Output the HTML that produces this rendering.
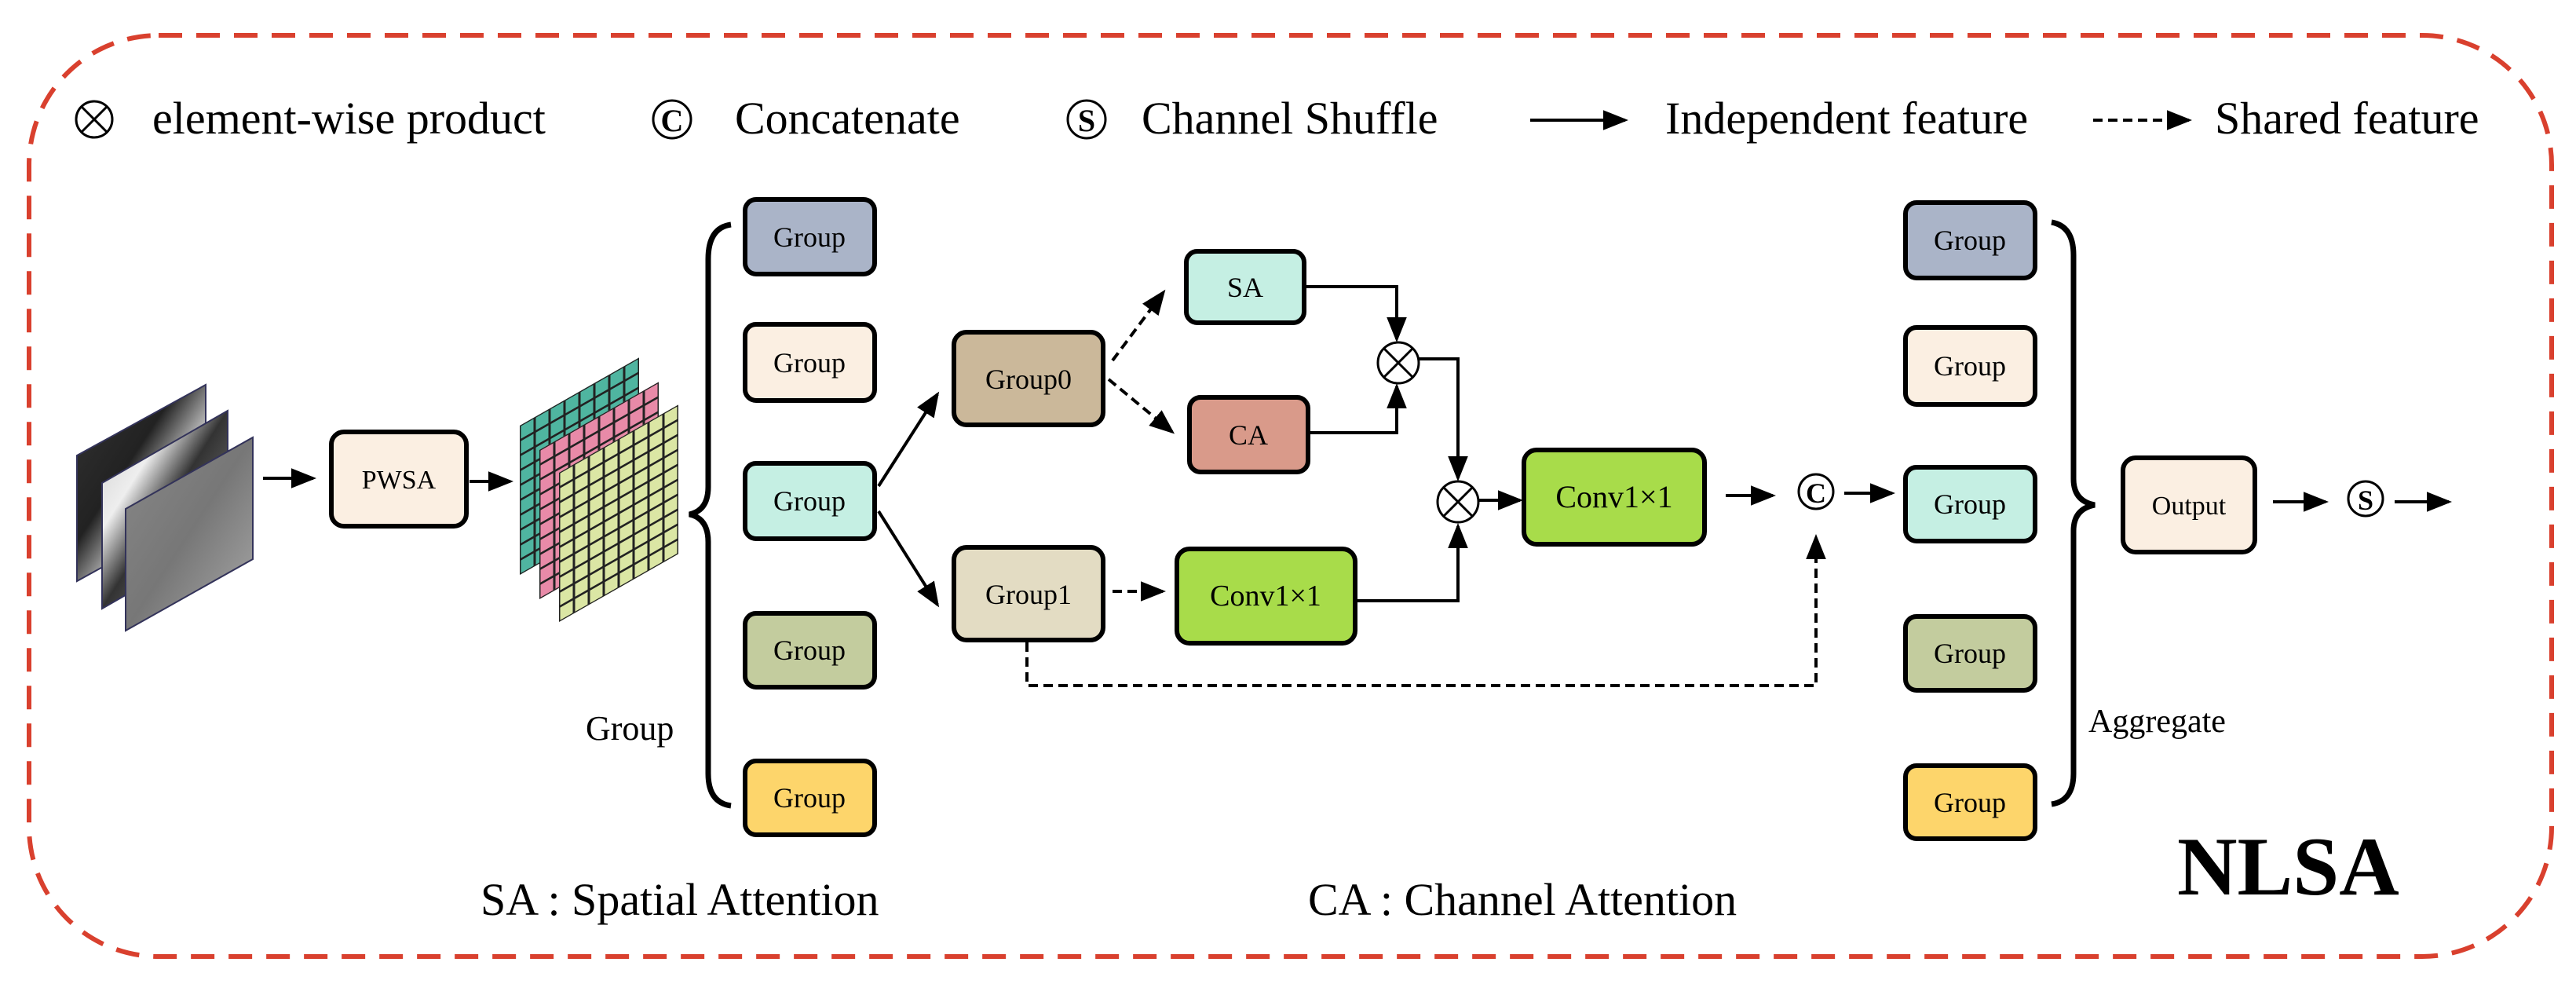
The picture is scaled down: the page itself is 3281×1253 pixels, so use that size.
<!DOCTYPE html>
<html><head><meta charset="utf-8"><style>
html,body{margin:0;padding:0;background:#fff}
svg{display:block}
text{font-family:"Liberation Serif","Times New Roman",serif;fill:#000}
</style></head><body>
<svg width="3281" height="1253" viewBox="0 0 3281 1253" xmlns="http://www.w3.org/2000/svg" font-family="'Liberation Serif', 'Times New Roman', serif">
<defs>
<marker id="ah" markerWidth="8" markerHeight="8" refX="7" refY="4" orient="auto" markerUnits="strokeWidth"><path d="M0,0.8 L8,4 L0,7.2 Z" fill="#000"/></marker>
<pattern id="gridp" width="19" height="19" patternUnits="userSpaceOnUse"><rect width="19" height="19" fill="none" stroke="#222" stroke-width="3"/></pattern>
<linearGradient id="g1" x1="0" y1="0" x2="1" y2="1"><stop offset="0" stop-color="#333"/><stop offset="0.4" stop-color="#222"/><stop offset="0.6" stop-color="#bbb"/><stop offset="1" stop-color="#555"/></linearGradient>
<linearGradient id="g2" x1="0" y1="0" x2="1" y2="1"><stop offset="0" stop-color="#ccc"/><stop offset="0.3" stop-color="#eee"/><stop offset="0.5" stop-color="#333"/><stop offset="1" stop-color="#999"/></linearGradient>
<linearGradient id="g3" x1="0" y1="0" x2="1" y2="1"><stop offset="0" stop-color="#888"/><stop offset="0.5" stop-color="#777"/><stop offset="1" stop-color="#aaa"/></linearGradient>
</defs>

<rect x="37" y="45" width="3213" height="1173" rx="165" ry="165" fill="none" stroke="#d9402e" stroke-width="6" stroke-dasharray="30,18"/>

<g stroke="#000" stroke-width="3" fill="none">
<circle cx="120" cy="152" r="23"/><line x1="104" y1="136" x2="136" y2="168"/><line x1="136" y1="136" x2="104" y2="168"/>
<circle cx="856" cy="152" r="24"/>
<circle cx="1384" cy="152" r="24"/>
</g>
<text x="194" y="170" font-size="58">element-wise product</text>
<text x="856" y="167" font-size="40" font-weight="bold" text-anchor="middle" font-family="Liberation Sans">C</text>
<text x="936" y="170" font-size="58">Concatenate</text>
<text x="1384" y="167" font-size="40" font-weight="bold" text-anchor="middle" font-family="Liberation Sans">S</text>
<text x="1454" y="170" font-size="58">Channel Shuffle</text>
<line x1="1949" y1="153" x2="2070" y2="153" stroke="#000" stroke-width="4" marker-end="url(#ah)"/>
<text x="2121" y="170" font-size="58">Independent feature</text>
<line x1="2666" y1="153" x2="2788" y2="153" stroke="#000" stroke-width="4" stroke-dasharray="12,7" marker-end="url(#ah)"/>
<text x="2821" y="170" font-size="58">Shared feature</text>

<g stroke="#33335a" stroke-width="2">
<polygon points="98,580 262,490 262,650 98,740" fill="url(#g1)"/>
<polygon points="130,615 290,523 290,683 130,775" fill="url(#g2)"/>
<polygon points="160,648 322,557 322,712 160,803" fill="url(#g3)"/>
</g>
<line x1="335" y1="609" x2="399" y2="609" stroke="#000" stroke-width="4" marker-end="url(#ah)"/>

<rect x="422" y="550" width="172" height="120" rx="16" fill="#fbefe2" stroke="#000" stroke-width="6"/>
<text x="508" y="622" font-size="34" text-anchor="middle">PWSA</text>
<line x1="598" y1="613" x2="650" y2="613" stroke="#000" stroke-width="4" marker-end="url(#ah)"/>

<g transform="matrix(1,-0.57,0,1,662,542)"><rect width="152" height="190" fill="#4fb5a0"/><rect width="152" height="190" fill="url(#gridp)"/></g>
<g transform="matrix(1,-0.57,0,1,687,573)"><rect width="152" height="190" fill="#e88aa8"/><rect width="152" height="190" fill="url(#gridp)"/></g>
<g transform="matrix(1,-0.57,0,1,712,602)"><rect width="152" height="190" fill="#dbe6a4"/><rect width="152" height="190" fill="url(#gridp)"/></g>

<path d="M931,286 Q902,290 902,330 L902,620 Q902,650 878,655 Q902,660 902,690 L902,985 Q902,1022 931,1026" fill="none" stroke="#000" stroke-width="7"/>
<text x="746" y="942" font-size="44">Group</text>

<g stroke="#000" stroke-width="6">
<rect x="949" y="254" width="165" height="95" rx="14" fill="#aab4c8"/>
<rect x="949" y="413" width="165" height="97" rx="14" fill="#fbefe2"/>
<rect x="949" y="590" width="165" height="96" rx="14" fill="#c5efe3"/>
<rect x="949" y="781" width="165" height="94" rx="14" fill="#c3cc9e"/>
<rect x="949" y="969" width="165" height="94" rx="14" fill="#fdd56b"/>
</g>
<g font-size="36" text-anchor="middle">
<text x="1031" y="314">Group</text><text x="1031" y="474">Group</text><text x="1031" y="650">Group</text><text x="1031" y="840">Group</text><text x="1031" y="1028">Group</text>
</g>

<line x1="1119" y1="619" x2="1194" y2="502" stroke="#000" stroke-width="4" marker-end="url(#ah)"/>
<line x1="1119" y1="651" x2="1194" y2="770" stroke="#000" stroke-width="4" marker-end="url(#ah)"/>
<rect x="1215" y="423" width="190" height="118" rx="16" fill="#cbb89a" stroke="#000" stroke-width="6"/>
<text x="1310" y="495" font-size="36" text-anchor="middle">Group0</text>
<rect x="1215" y="697" width="190" height="118" rx="16" fill="#e3dcc3" stroke="#000" stroke-width="6"/>
<text x="1310" y="769" font-size="36" text-anchor="middle">Group1</text>

<g stroke="#000" stroke-width="4" stroke-dasharray="12,7" fill="none">
<line x1="1417" y1="459" x2="1482" y2="372" marker-end="url(#ah)"/>
<line x1="1412" y1="483" x2="1493" y2="550" marker-end="url(#ah)"/>
<line x1="1417" y1="753" x2="1481" y2="753" marker-end="url(#ah)"/>
<polyline points="1308,818 1308,873 2313,873 2313,684" marker-end="url(#ah)"/>
</g>

<rect x="1511" y="320" width="150" height="91" rx="14" fill="#c5efe3" stroke="#000" stroke-width="6"/>
<text x="1586" y="378" font-size="36" text-anchor="middle">SA</text>
<rect x="1515" y="506" width="151" height="95" rx="14" fill="#d99a8a" stroke="#000" stroke-width="6"/>
<text x="1590" y="566" font-size="36" text-anchor="middle">CA</text>
<rect x="1499" y="699" width="227" height="120" rx="16" fill="#a8dc4a" stroke="#000" stroke-width="6"/>
<text x="1612" y="771" font-size="38" text-anchor="middle">Conv1×1</text>

<g stroke="#000" stroke-width="4" fill="none">
<polyline points="1661,365 1779,365 1779,432" marker-end="url(#ah)"/>
<polyline points="1666,551 1779,551 1779,492" marker-end="url(#ah)"/>
<polyline points="1807,457 1857,457 1857,609" marker-end="url(#ah)"/>
<polyline points="1726,765 1857,765 1857,670" marker-end="url(#ah)"/>
<line x1="1884" y1="637" x2="1936" y2="637" marker-end="url(#ah)"/>
<circle cx="1781" cy="462" r="26" stroke-width="3"/>
<line x1="1763" y1="444" x2="1799" y2="480" stroke-width="3"/><line x1="1799" y1="444" x2="1763" y2="480" stroke-width="3"/>
<circle cx="1857" cy="639" r="26" stroke-width="3"/>
<line x1="1839" y1="621" x2="1875" y2="657" stroke-width="3"/><line x1="1875" y1="621" x2="1839" y2="657" stroke-width="3"/>
</g>

<rect x="1941" y="573" width="230" height="120" rx="16" fill="#a8dc4a" stroke="#000" stroke-width="6"/>
<text x="2056" y="646" font-size="40" text-anchor="middle">Conv1×1</text>
<line x1="2198" y1="631" x2="2258" y2="631" stroke="#000" stroke-width="4" marker-end="url(#ah)"/>
<circle cx="2313" cy="626" r="22" fill="none" stroke="#000" stroke-width="3"/>
<text x="2313" y="640" font-size="36" font-weight="bold" text-anchor="middle" font-family="Liberation Sans">C</text>
<line x1="2349" y1="628" x2="2410" y2="628" stroke="#000" stroke-width="4" marker-end="url(#ah)"/>

<g stroke="#000" stroke-width="6">
<rect x="2427" y="258" width="165" height="96" rx="14" fill="#aab4c8"/>
<rect x="2427" y="417" width="165" height="98" rx="14" fill="#fbefe2"/>
<rect x="2427" y="595" width="165" height="94" rx="14" fill="#c5efe3"/>
<rect x="2427" y="785" width="165" height="94" rx="14" fill="#c3cc9e"/>
<rect x="2427" y="975" width="165" height="93" rx="14" fill="#fdd56b"/>
</g>
<g font-size="36" text-anchor="middle">
<text x="2509" y="318">Group</text><text x="2509" y="478">Group</text><text x="2509" y="654">Group</text><text x="2509" y="844">Group</text><text x="2509" y="1034">Group</text>
</g>
<path d="M2613,283 Q2641,288 2641,325 L2641,610 Q2641,638 2668,643 Q2641,648 2641,676 L2641,985 Q2641,1020 2613,1024" fill="none" stroke="#000" stroke-width="7"/>
<text x="2660" y="932" font-size="42">Aggregate</text>

<rect x="2704" y="583" width="168" height="120" rx="16" fill="#fbefe2" stroke="#000" stroke-width="6"/>
<text x="2788" y="655" font-size="34" text-anchor="middle">Output</text>
<line x1="2895" y1="639" x2="2962" y2="639" stroke="#000" stroke-width="4" marker-end="url(#ah)"/>
<circle cx="3013" cy="635" r="22" fill="none" stroke="#000" stroke-width="3"/>
<text x="3013" y="649" font-size="36" font-weight="bold" text-anchor="middle" font-family="Liberation Sans">S</text>
<line x1="3050" y1="639" x2="3119" y2="639" stroke="#000" stroke-width="4" marker-end="url(#ah)"/>

<text x="612" y="1165" font-size="58">SA : Spatial Attention</text>
<text x="1666" y="1165" font-size="58">CA : Channel Attention</text>
<text x="2773" y="1139" font-size="106" font-weight="bold">NLSA</text>
</svg>
</body></html>
